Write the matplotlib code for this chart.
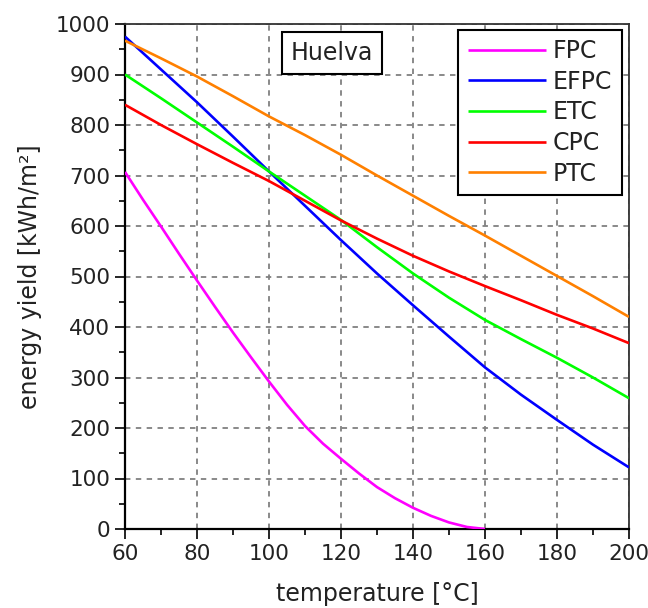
import matplotlib
matplotlib.use("Agg")
import matplotlib.pyplot as plt
from matplotlib.ticker import MultipleLocator

plt.rcParams['font.family'] = ['DejaVu Sans']

temps = [60, 70, 80, 90, 100, 110, 120, 130, 140, 150, 160, 170, 180, 190, 200]
fpc_temps = [60, 65, 70, 75, 80, 85, 90, 95, 100, 105, 110, 115, 120, 125, 130,
             135, 140, 145, 150, 155, 160]
fpc = [707, 652, 599, 545, 492, 440, 389, 340, 292, 246, 204, 169, 139, 110, 83,
       61, 42, 26, 13, 4, 0]
efpc = [975, 910, 845, 777, 708, 640, 572, 506, 443, 381, 320, 266, 216, 167, 122]
etc = [900, 853, 805, 757, 708, 660, 612, 558, 506, 458, 414, 376, 339, 300, 259]
cpc = [840, 800, 762, 725, 689, 650, 611, 575, 541, 510, 481, 453, 424, 397, 368]
ptc = [967, 932, 896, 857, 817, 780, 741, 700, 660, 620, 581, 541, 501, 461, 420]

labels = ["FPC", "EFPC", "ETC", "CPC", "PTC"]
colors = ["#ff00ff", "#0000ff", "#00ff00", "#ff0000", "#ff8000"]
x_ticks = [60, 80, 100, 120, 140, 160, 180, 200]
y_ticks = [0, 100, 200, 300, 400, 500, 600, 700, 800, 900, 1000]

fig = plt.figure(figsize=(6.48, 6.08), dpi=100)
ax = fig.add_axes([125/648, 1-529/608, 504/648, 505/608])

series = [(fpc_temps, fpc), (temps, efpc), (temps, etc), (temps, cpc), (temps, ptc)]
for (xs, ys), lab, col in zip(series, labels, colors):
    ax.plot(xs, ys, color=col, lw=1.9, label=lab, zorder=3,
            solid_joinstyle='round', solid_capstyle='butt')

ax.set_xlim(60, 200)
ax.set_ylim(0, 1000)
ax.set_xticks(x_ticks)
ax.set_yticks(y_ticks)
ax.xaxis.set_minor_locator(MultipleLocator(10))
ax.yaxis.set_minor_locator(MultipleLocator(50))
ax.tick_params(which='major', direction='out', length=7.5, width=1.2, labelsize=15.5,
               colors='black', pad=3)
ax.tick_params(which='minor', direction='out', length=4.5, width=1.2)
for lab in ax.get_xticklabels() + ax.get_yticklabels():
    lab.set_color('#222222')

ax.grid(True, which='major', color='#808080', linestyle=(0, (3, 3)), lw=1.3)
ax.set_axisbelow(True)

for s in ['left', 'bottom']:
    ax.spines[s].set_linewidth(1.6)
    ax.spines[s].set_color('black')
for s in ['top', 'right']:
    ax.spines[s].set_linewidth(1.3)
    ax.spines[s].set_color('#333333')

ax.set_xlabel("temperature [°C]", fontsize=17, color='#222222', labelpad=13)
ax.set_ylabel("energy yield [kWh/m²]", fontsize=17, color='#222222', labelpad=10)

leg = ax.legend(loc='upper right', bbox_to_anchor=(0.9855, 0.9887), borderaxespad=0,
                fontsize=17, handlelength=3.3, handletextpad=0.3, labelspacing=0.28,
                fancybox=False, framealpha=1, edgecolor='black', borderpad=0.4)
leg.get_frame().set_linewidth(1.5)
for t in leg.get_texts():
    t.set_color('#222222')

ax.text(0.411, 0.943, "Huelva", transform=ax.transAxes, fontsize=17, color='#222222',
        ha='center', va='center',
        bbox=dict(boxstyle='square,pad=0.38', fc='white', ec='black', lw=1.5), zorder=5)

fig.savefig("out.png", dpi=100)
